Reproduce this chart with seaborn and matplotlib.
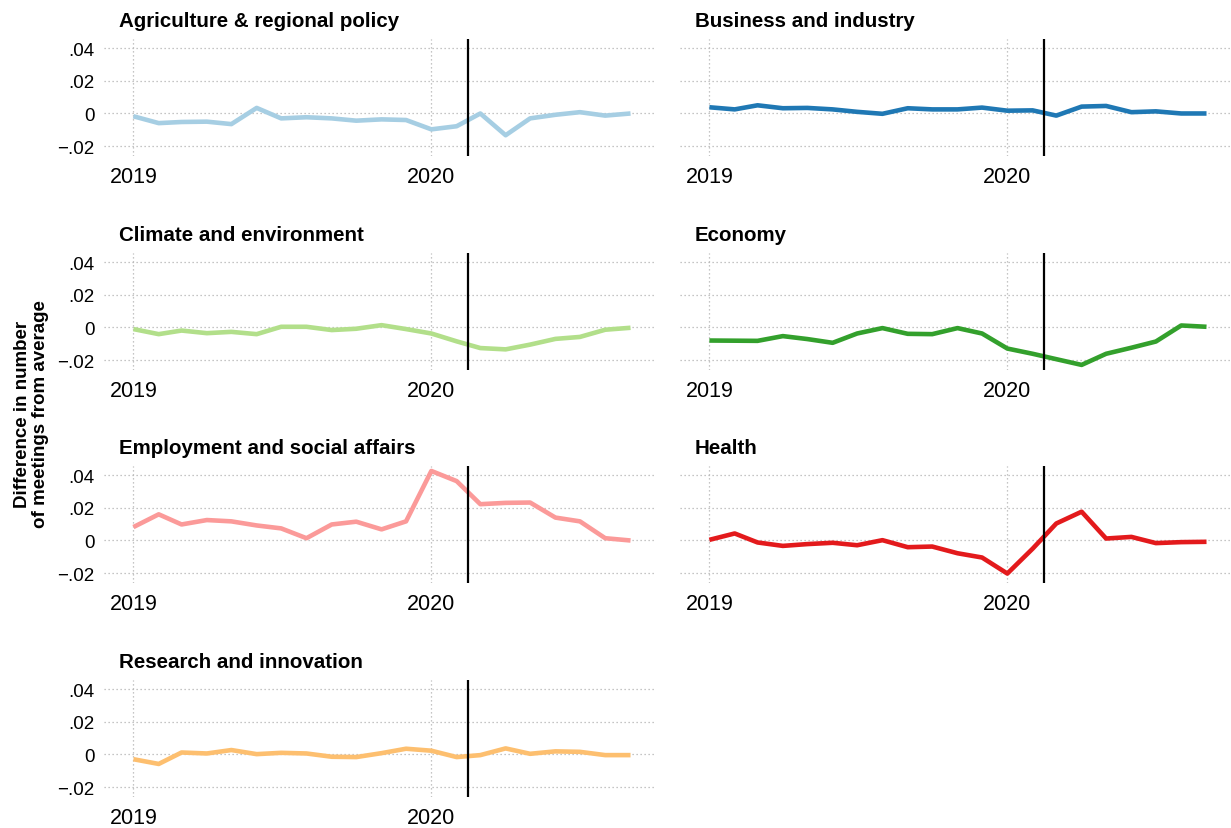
import numpy as np
import pandas as pd
import matplotlib
matplotlib.use("Agg")
import matplotlib.pyplot as plt
import seaborn as sns

# Monthly observations, January 2019 to September 2020
months = pd.date_range("2019-01-01", "2020-09-01", freq="MS")

topics = [
    "Agriculture & regional policy",
    "Business and industry",
    "Climate and environment",
    "Economy",
    "Employment and social affairs",
    "Health",
    "Research and innovation",
]

agriculture = [-0.0017, -0.0059, -0.0052, -0.0050, -0.0065, 0.0034, -0.0030, -0.0023, -0.0030, -0.0044,
               -0.0036, -0.0040, -0.0097, -0.0078, 0.0000, -0.0133, -0.0030, -0.0008, 0.0008, -0.0013, 0.0000]
business = [0.0038, 0.0025, 0.0050, 0.0032, 0.0034, 0.0025, 0.0010, -0.0002, 0.0032, 0.0025,
            0.0025, 0.0036, 0.0017, 0.0019, -0.0013, 0.0042, 0.0046, 0.0008, 0.0013, 0.0000, 0.0000]
climate = [-0.0010, -0.0041, -0.0019, -0.0035, -0.0027, -0.0041, 0.0004, 0.0004, -0.0016, -0.0008,
           0.0014, -0.0010, -0.0037, -0.0085, -0.0126, -0.0134, -0.0105, -0.0070, -0.0058, -0.0014, -0.0002]
economy = [-0.0080, -0.0081, -0.0082, -0.0053, -0.0071, -0.0094, -0.0037, -0.0004, -0.0039, -0.0041,
           -0.0004, -0.0037, -0.0129, -0.0161, -0.0194, -0.0229, -0.0161, -0.0124, -0.0086, 0.0012, 0.0004]
employment = [0.0082, 0.0160, 0.0098, 0.0125, 0.0117, 0.0092, 0.0074, 0.0014, 0.0098, 0.0115,
              0.0068, 0.0117, 0.0425, 0.0363, 0.0222, 0.0230, 0.0232, 0.0140, 0.0117, 0.0014, 0.0000]
health = [0.0004, 0.0043, -0.0012, -0.0033, -0.0022, -0.0014, -0.0029, 0.0002, -0.0041, -0.0037,
          -0.0078, -0.0104, -0.0202, -0.0050, 0.0104, 0.0176, 0.0012, 0.0022, -0.0016, -0.0010, -0.0008]
research = [-0.0029, -0.0058, 0.0012, 0.0006, 0.0027, 0.0002, 0.0010, 0.0006, -0.0014, -0.0016,
            0.0008, 0.0035, 0.0023, -0.0016, -0.0004, 0.0037, 0.0004, 0.0019, 0.0016, -0.0004, -0.0004]

series = [agriculture, business, climate, economy, employment, health, research]

y_ticks = [-0.02, 0, 0.02, 0.04]
y_tick_labels = ["\u2212.02", "0", ".02", ".04"]
x_ticks = pd.to_datetime(["2019-01-01", "2020-01-01"])
x_tick_labels = ["2019", "2020"]
break_date = pd.Timestamp("2020-02-15")

df = pd.DataFrame({
    "month": np.tile(months, len(topics)),
    "topic": np.repeat(topics, len(months)),
    "diff": np.concatenate(series),
})

sns.set_style("white")
plt.rcParams["font.family"] = ["Liberation Sans", "DejaVu Sans"]
plt.rcParams["text.color"] = "black"
plt.rcParams["xtick.color"] = "black"
plt.rcParams["ytick.color"] = "black"

colors = sns.color_palette("Paired", len(topics))

fig = plt.figure(figsize=(12.31, 8.29), dpi=100)

row_bottoms = [0.8106, 0.5525, 0.2955, 0.0374]
col_lefts = [0.0845, 0.5524]
ax_w, ax_h = 0.4476, 0.1411

for i, topic in enumerate(topics):
    r, c = divmod(i, 2)
    ax = fig.add_axes([col_lefts[c], row_bottoms[r], ax_w, ax_h])
    sub = df[df["topic"] == topic]
    sns.lineplot(data=sub, x="month", y="diff", color=colors[i], linewidth=3.3, ax=ax,
                 solid_capstyle="butt", zorder=3)
    ax.axvline(break_date, color="black", linewidth=1.6, zorder=4)

    ax.set_xlim(pd.Timestamp("2018-11-26"), pd.Timestamp("2020-10-01"))
    ax.set_ylim(-0.026, 0.0455)
    ax.set_xticks(x_ticks)
    ax.set_xticklabels(x_tick_labels)
    ax.set_yticks(y_ticks)
    if c == 0:
        ax.set_yticklabels(y_tick_labels)
    else:
        ax.set_yticklabels([])
    ax.tick_params(axis="both", length=0, colors="black")
    ax.tick_params(axis="x", labelsize=15.5, pad=7)
    ax.tick_params(axis="y", labelsize=13.5, pad=7)
    ax.grid(True, linestyle=(0, (1, 2.2)), color="#b3b3b3", linewidth=0.9, zorder=0)
    for s in ax.spines.values():
        s.set_visible(False)
    ax.set_xlabel("")
    ax.set_ylabel("")
    ax.text(0.027, 1 + 13 / 117, topic, transform=ax.transAxes, ha="left", va="baseline",
            fontsize=14.8, fontweight="bold", color="black")

fig.text(0.0255, 0.5, "Difference in number\nof meetings from average", rotation=90,
         ha="center", va="center", fontsize=13.5, fontweight="bold", linespacing=1.05,
         color="black")

fig.savefig("out.png", dpi=100)
